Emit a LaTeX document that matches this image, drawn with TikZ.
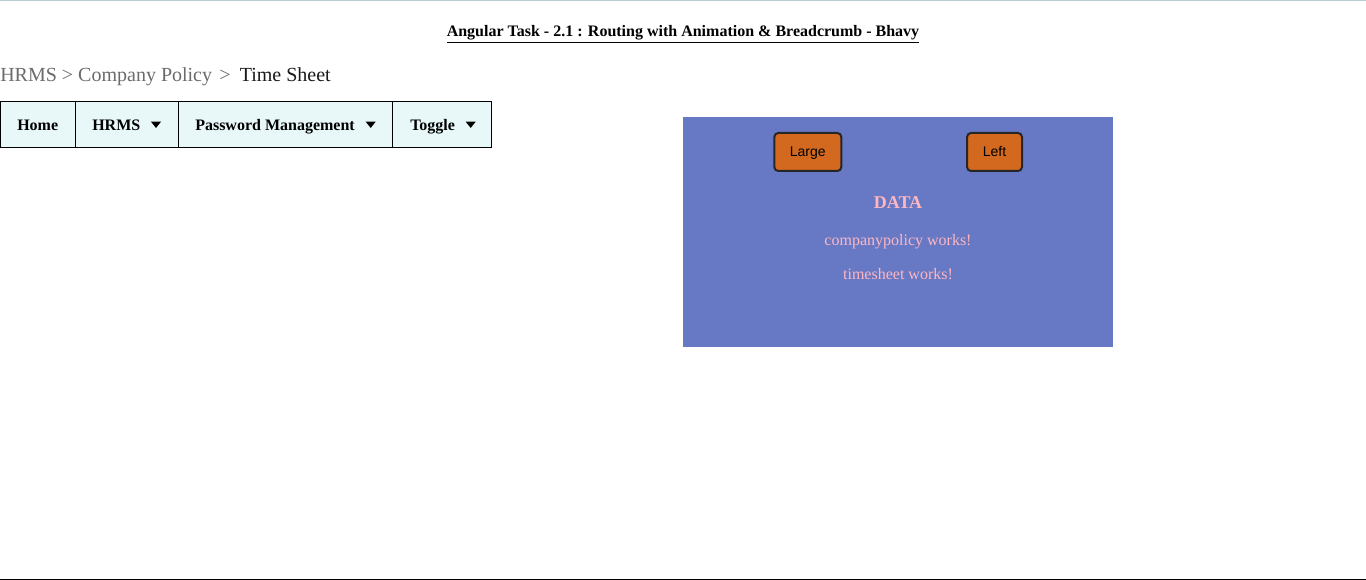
\documentclass[tikz,border=0pt]{standalone}
\usepackage{fontspec}
\setmainfont{Liberation Serif}
\setsansfont{Liberation Sans}
\usetikzlibrary{positioning}

\definecolor{topline}{HTML}{B7CDD3}
\definecolor{crumbgray}{HTML}{6B6B6B}
\definecolor{menufill}{HTML}{E8F8F8}
\definecolor{panelblue}{HTML}{6779C4}
\definecolor{btnorange}{HTML}{D2691E}
\definecolor{datapink}{HTML}{FFB6C1}

\begin{document}
\begin{tikzpicture}[x=0.75pt, y=-0.75pt,
        crumb/.style={anchor=base west, inner sep=0pt, font=\fontsize{15}{18}\selectfont},
        menucell/.style={draw=black, fill=menufill, line width=0.75pt},
        menutext/.style={anchor=base west, inner sep=0pt, font=\bfseries\fontsize{12}{14}\selectfont},
        btnbox/.style={draw=black!85, fill=btnorange, line width=1.5pt, rounded corners=3pt,
            inner sep=0pt, minimum height=28.5pt, text height=7.5pt, text depth=0pt,
            font=\sffamily\fontsize{10.5}{12}\selectfont},
        paneltext/.style={anchor=base, text=datapink, inner sep=0pt, font=\fontsize{12}{14}\selectfont}]
        \useasboundingbox (0,0) rectangle (1366,580);

        % Page rules
        \draw[topline, line width=0.75pt] (0,1) -- (1366,1);
        \draw[black, line width=0.75pt] (0,579) -- (1366,579);

        % Title
        \node[anchor=base, inner sep=0pt, font=\bfseries\fontsize{12}{14}\selectfont] (title) at (683,37)
            {\underline{Angular Task - 2.1 : Routing with Animation \& Breadcrumb - Bhavy}};

        % Breadcrumb
        \node[crumb, text=crumbgray] (crumbhrms) at (0,81.5) {HRMS > Company Policy};
        \node[crumb, text=crumbgray, right=5pt of crumbhrms.base east, anchor=base west] (crumbsep) {>};
        \node[crumb, text=black!90, right=6.5pt of crumbsep.base east, anchor=base west] (crumbtime) {Time Sheet};

        % Menu bar
        \foreach \xa/\xb in {0/75, 75/178, 178/392, 392/491} {
            \draw[menucell] (\xa,101.5) rectangle (\xb,148);
        }
        \node[menutext] (home) at (17,130.5) {Home};
        \node[menutext] (hrms) at (92,130.5) {HRMS};
        \node[menutext] (pwd) at (195,130.5) {Password Management};
        \node[menutext] (toggle) at (410,130.5) {Toggle};
        \foreach \tx in {156,370.7,470.7} {
            \fill (\tx-5,121.7) -- (\tx+5,121.7) -- (\tx,128) -- cycle;
        }

        % Data panel
        \fill[panelblue] (683,117) rectangle (1113,347);
        \node[btnbox, minimum width=50.25pt] (large) at (807.8,152) {Large};
        \node[btnbox, minimum width=41.25pt] (left) at (994.5,152) {Left};
        \node[paneltext, font=\bfseries\fontsize{13.5}{16}\selectfont] (data) at (898,208.5) {DATA};
        \node[paneltext] (company) at (898,246) {companypolicy works!};
        \node[paneltext] (timesheet) at (898,280) {timesheet works!};
\end{tikzpicture}
\end{document}
